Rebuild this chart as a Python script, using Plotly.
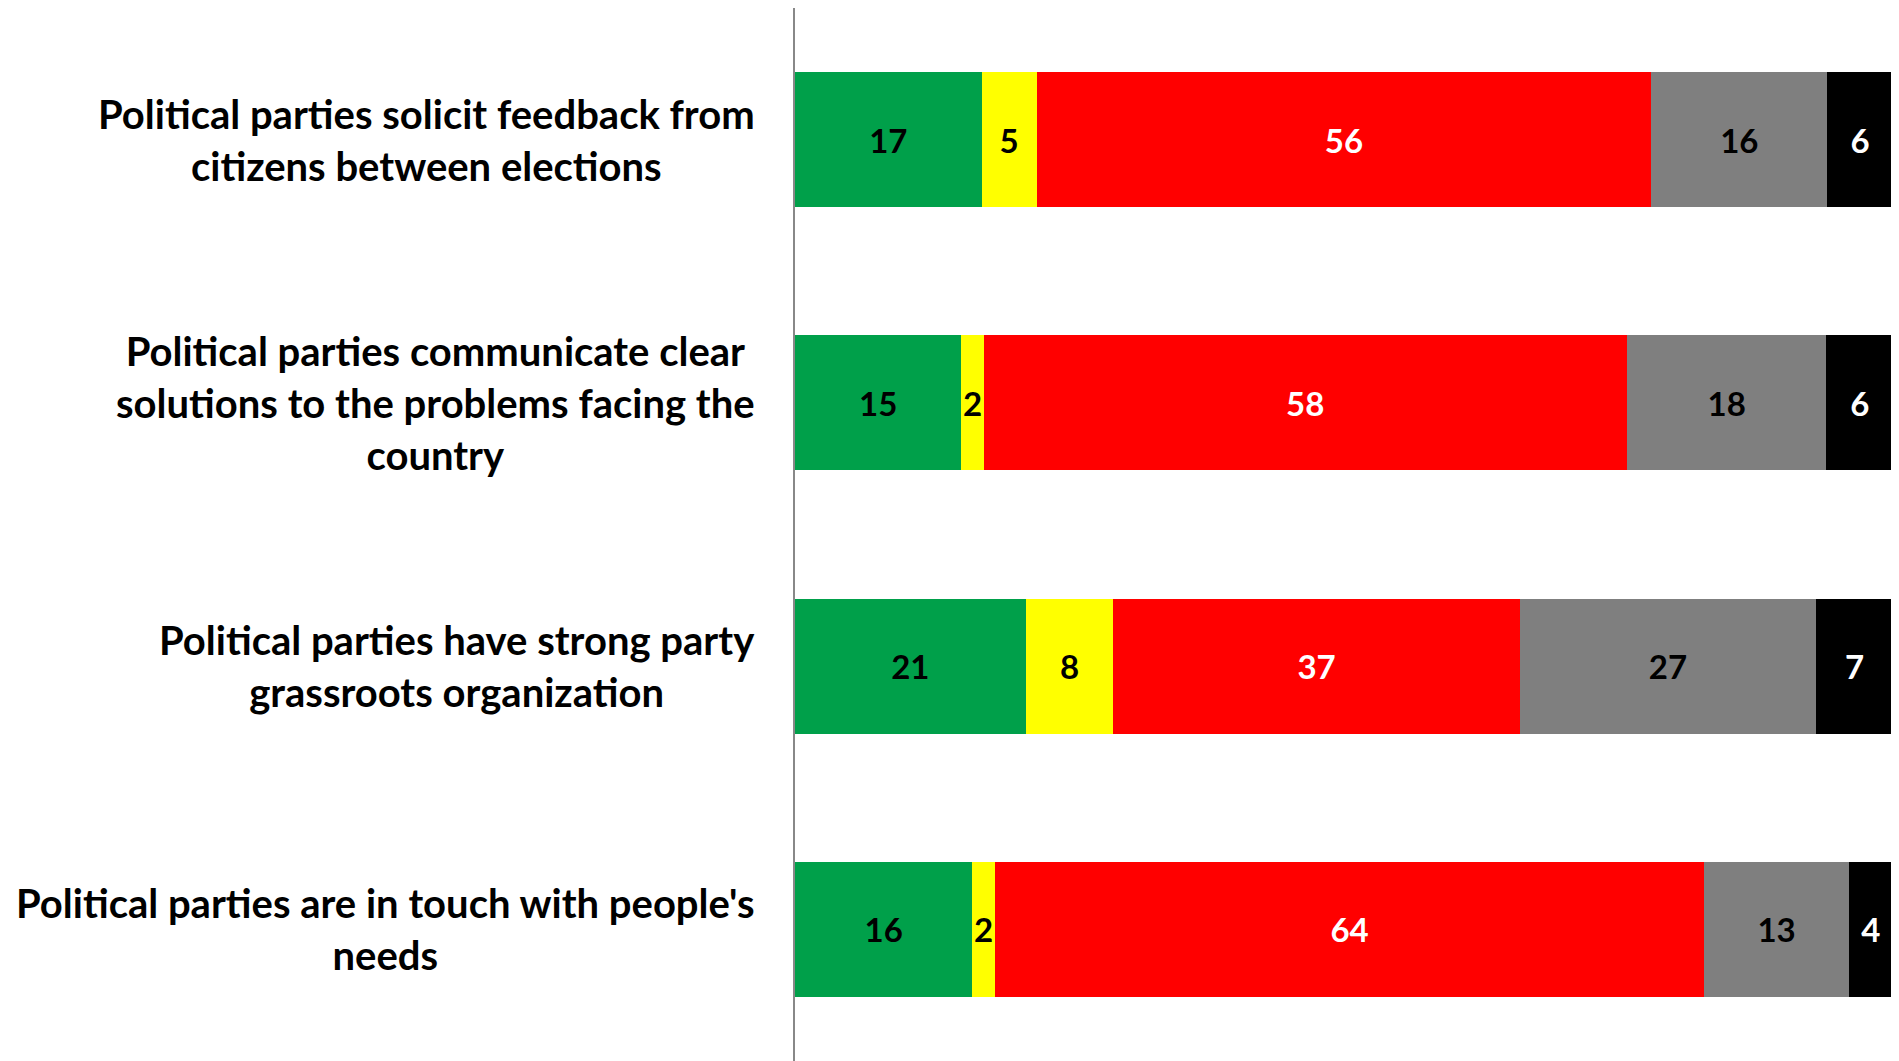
import plotly.graph_objects as go

# statements, top to bottom
statements = [
    "Political parties solicit feedback from<br>citizens between elections",
    "Political parties communicate clear<br>solutions to the problems facing the<br>country",
    "Political parties have strong party<br>grassroots organization",
    "Political parties are in touch with people's<br>needs",
]

series_names = ["Agree", "Neutral", "Disagree", "Don't know", "Refused"]
agree = [17, 15, 21, 16]
neutral = [5, 2, 8, 2]
disagree = [56, 58, 37, 64]
dont_know = [16, 18, 27, 13]
refused = [6, 6, 7, 4]

colors = ["#00A04A", "#FFFF00", "#FF0000", "#7F7F7F", "#000000"]
text_colors = ["black", "black", "white", "black", "white"]

fig = go.Figure()
for name, vals, col, tcol in zip(series_names,
                                 [agree, neutral, disagree, dont_know, refused],
                                 colors, text_colors):
    fig.add_trace(go.Bar(
        y=statements, x=vals, name=name, orientation='h',
        marker=dict(color=col, line=dict(width=0)),
        text=[str(v) for v in vals],
        textposition='inside', insidetextanchor='middle', textangle=0,
        textfont=dict(family="Lato", size=33, color=tcol, weight="bold"),
        hoverinfo='skip',
    ))

# category labels: centred lines, block right-aligned next to the axis
for s in statements:
    fig.add_annotation(
        x=0, xref='paper', y=s, yref='y',
        text="<b>" + s + "</b>", showarrow=False,
        xanchor='right', align='center', xshift=-38,
        font=dict(family="Lato", size=40, color="black"),
    )

fig.update_layout(
    barmode='stack', barnorm='percent', bargap=0.487,
    width=1891, height=1053,
    margin=dict(l=787, r=6, t=0, b=0),
    plot_bgcolor='white', paper_bgcolor='white',
    showlegend=False,
    uniformtext=dict(minsize=33, mode='show'),
)
fig.update_xaxes(range=[0, 100], visible=False, showgrid=False)
fig.update_yaxes(autorange='reversed', showticklabels=False, ticks='',
                 showgrid=False, showline=True, linecolor='#888888',
                 linewidth=2, zeroline=False)

fig.write_html("out.html")
